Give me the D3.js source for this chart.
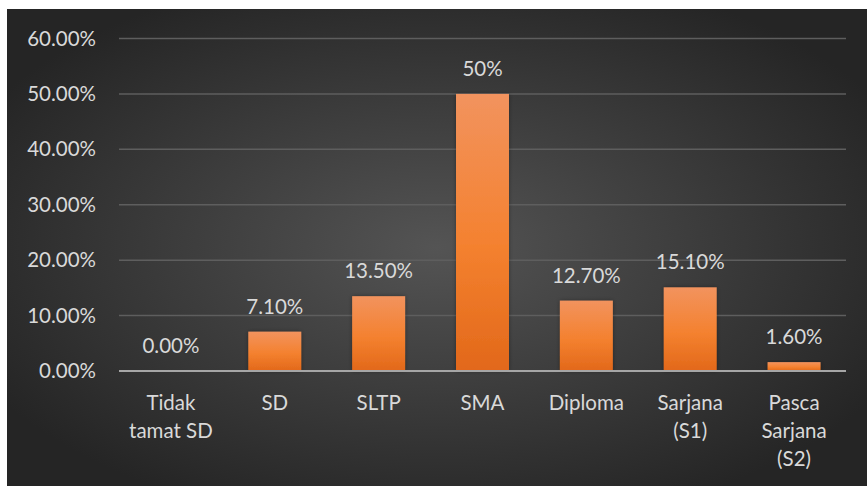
<!DOCTYPE html>
<html><head><meta charset="utf-8">
<script src="https://cdn.jsdelivr.net/npm/d3@7"></script>
<style>html,body{margin:0;padding:0;background:#fff;}svg{display:block;}</style>
</head><body>
<script>
const categories = [["Tidak","tamat SD"],["SD"],["SLTP"],["SMA"],["Diploma"],["Sarjana","(S1)"],["Pasca","Sarjana","(S2)"]];
const values = [0.0, 7.1, 13.5, 50, 12.7, 15.1, 1.6];
const valueLabels = ["0.00%","7.10%","13.50%","50%","12.70%","15.10%","1.60%"];
const yTicks = [0,10,20,30,40,50,60];
const yTickLabels = ["0.00%","10.00%","20.00%","30.00%","40.00%","50.00%","60.00%"];

const W = 867, H = 487;
const svg = d3.select("body").append("svg").attr("width", W).attr("height", H);
const defs = svg.append("defs");
const bg = defs.append("radialGradient").attr("id","bg").attr("cx","50%").attr("cy","50%").attr("r","60%");
bg.append("stop").attr("offset","0%").attr("stop-color","#545454");
bg.append("stop").attr("offset","100%").attr("stop-color","#252525");
const bar = defs.append("linearGradient").attr("id","bar").attr("x1",0).attr("y1",0).attr("x2",0).attr("y2",1);
bar.append("stop").attr("offset","0%").attr("stop-color","#F2935E");
bar.append("stop").attr("offset","55%").attr("stop-color","#F4812F");
bar.append("stop").attr("offset","100%").attr("stop-color","#E2681A");
const sh = defs.append("filter").attr("id","sh").attr("x","-20%").attr("y","-20%").attr("width","140%").attr("height","140%");
sh.append("feDropShadow").attr("dx",0).attr("dy",0).attr("stdDeviation",2).attr("flood-color","#000").attr("flood-opacity",0.35);

svg.append("rect").attr("x",7).attr("y",9).attr("width",W-7).attr("height",477).attr("fill","url(#bg)");

const x = d3.scaleBand().domain(d3.range(categories.length)).range([119, 846]).paddingInner(0.49).paddingOuter(0.245);
const y = d3.scaleLinear().domain([0,60]).range([371, 38.5]);

const font = "Lato, 'Open Sans', sans-serif";
const txt = "#D9D9D9";

// gridlines
svg.append("g").selectAll("line").data(yTicks.filter(d=>d>0)).join("line")
  .attr("x1",119).attr("x2",846).attr("y1",d=>y(d)).attr("y2",d=>y(d))
  .attr("stroke","#5E5E5E").attr("stroke-width",1.5);

// y axis labels via d3 axis
const yAxis = d3.axisLeft(y).tickValues(yTicks).tickFormat((d,i)=>yTickLabels[i]).tickSize(0).tickPadding(23);
const ya = svg.append("g").attr("transform","translate(119,0)").call(yAxis);
ya.select(".domain").remove();
ya.selectAll("text").attr("fill",txt).attr("font-family",font).attr("font-size",20.5);

// bars
svg.append("g").selectAll("rect").data(values).join("rect")
  .attr("x",(d,i)=>x(i)).attr("width",x.bandwidth())
  .attr("y",d=>y(d)).attr("height",d=>y(0)-y(d))
  .attr("fill","url(#bar)").attr("filter","url(#sh)");

// zero line
svg.append("line").attr("x1",119).attr("x2",846).attr("y1",y(0)).attr("y2",y(0))
  .attr("stroke","#A6A6A6").attr("stroke-width",2);

// value labels
svg.append("g").selectAll("text").data(values).join("text")
  .attr("x",(d,i)=>x(i)+x.bandwidth()/2).attr("y",d=>y(d)-18)
  .attr("text-anchor","middle").attr("fill",txt).attr("font-family",font).attr("font-size",20.5)
  .text((d,i)=>valueLabels[i]);

// category labels
const cg = svg.append("g").selectAll("text").data(categories).join("text")
  .attr("text-anchor","middle").attr("fill",txt).attr("font-family",font).attr("font-size",20.5);
cg.each(function(lines,i){
  const t = d3.select(this);
  lines.forEach((l,j)=>{
    t.append("tspan").attr("x",x(i)+x.bandwidth()/2).attr("y",410+j*28).text(l);
  });
});
</script>
</body></html>
